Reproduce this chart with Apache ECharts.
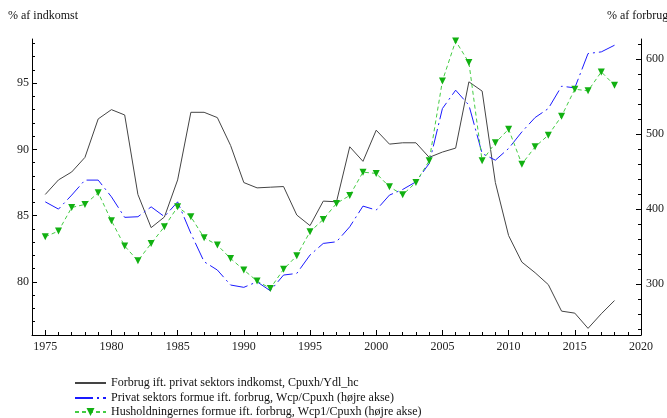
<!DOCTYPE html>
<html>
<head>
<meta charset="utf-8">
<script src="https://cdn.jsdelivr.net/npm/echarts@6/dist/echarts.min.js"></script>
<style>
  html, body { margin: 0; padding: 0; background: #fff; }
  #chart { width: 667px; height: 418px; }
</style>
</head>
<body>
<div id="chart"></div>
<script>
    // data, 1975-2018
    var years = [];
    for (var y = 1975; y <= 2018; y++) years.push(y);

    var forbrug = [86.6, 87.7, 88.3, 89.4, 92.3, 93.0, 92.6, 86.6, 84.1, 84.9,
        87.7, 92.8, 92.8, 92.4, 90.3, 87.5, 87.1, 87.15, 87.2, 85.05,
        84.25, 86.1, 86.05, 90.2, 89.1, 91.45, 90.4, 90.5, 90.5, 89.4,
        89.8, 90.1, 95.1, 94.4, 87.5, 83.5, 81.5, 80.7, 79.8, 77.8,
        77.65, 76.5, 77.6, 78.6];

    var wcp = [409.7, 400, 418.7, 438.7, 438.7, 416.4, 389, 389.8, 403, 390,
        409.7, 367.6, 329.8, 318.7, 298.7, 295.6, 303, 291, 312, 314.2,
        338.7, 354.2, 356.4, 376.4, 404, 398.7, 418.7, 426.2, 436.4, 460.9,
        534.2, 558.7, 538.7, 474.2, 465.3, 480.9, 503, 522.2, 534.2, 564,
        561.8, 607.6, 609.8, 618.7];

    var wcp1 = [363.1, 370.7, 402.2, 406.2, 421.8, 384.4, 350.7, 331, 354.2, 376.4,
        403, 389.8, 361.8, 352, 334.2, 318.7, 304, 294.2, 319.6, 337.8,
        369.8, 386.2, 407.6, 418.2, 449.3, 447.6, 429.8, 419.1, 435.6, 464.4,
        571.1, 624.4, 595.6, 464.4, 488.4, 506.7, 460, 483.1, 498.7, 524,
        560, 557.8, 583.1, 565.3];

    var names = ['Forbrug ift. privat sektors indkomst, Cpuxh/Ydl_hc',
        'Privat sektors formue ift. forbrug, Wcp/Cpuxh (højre akse)',
        'Husholdningernes formue ift. forbrug, Wcp1/Cpuxh (højre akse)'];

    var xLabels = [1975, 1980, 1985, 1990, 1995, 2000, 2005, 2010, 2015, 2020];
    var xMinor = [];
    for (var y = 1975; y <= 2019; y++) xMinor.push(y);
    var leftLabels = [80, 85, 90, 95];
    var leftMinor = [];
    for (var v = 77; v <= 98; v++) leftMinor.push(v);
    var rightLabels = [300, 400, 500, 600];
    var rightMinor = [];
    for (var v = 240; v <= 620; v += 20) rightMinor.push(v);

    function pairs(vals) {
        var out = [];
        for (var i = 0; i < vals.length; i++) out.push([years[i], vals[i]]);
        return out;
    }

    var font = 'Liberation Serif';
    var axisColor = '#000';
    var labelStyle = { fontFamily: font, fontSize: 12, color: '#222' };
    var plain = function (v) { return String(v); };

    // one legend per row so they stack like the original
    function legendRow(i, top, hideSymbol) {
        var item = { name: names[i] };
        if (hideSymbol) item.itemStyle = { opacity: 0 };
        return {
            left: 74,
            top: top,
            padding: 0,
            itemWidth: 31,
            itemHeight: 10,
            textStyle: { fontFamily: font, fontSize: 12, color: '#111' },
            data: [item]
        };
    }

    var chart = echarts.init(document.getElementById('chart'));
    var option = {
        animation: false,
        textStyle: { fontFamily: font },
        grid: { left: 32, right: 26, top: 39, bottom: 83 },
        graphic: [
            { type: 'text', left: 8, top: 10, style: { text: '% af indkomst', font: '12px ' + font, fill: '#111' } },
            { type: 'text', left: 607, top: 10, style: { text: '% af forbrug', font: '12px ' + font, fill: '#111' } }
        ],
        legend: [
            legendRow(0, 377, true),
            legendRow(1, 392, true),
            legendRow(2, 406, false)
        ],
        xAxis: [
            {
                type: 'value', min: 1974, max: 2020,
                splitLine: { show: false },
                axisLine: { lineStyle: { color: axisColor } },
                axisTick: { inside: true, length: 5, customValues: xLabels, lineStyle: { color: axisColor } },
                axisLabel: Object.assign({ customValues: xLabels, margin: 6, formatter: plain }, labelStyle)
            },
            {
                type: 'value', min: 1974, max: 2020, position: 'bottom',
                splitLine: { show: false },
                axisLine: { show: false },
                axisTick: { inside: true, length: 3, customValues: xMinor, lineStyle: { color: axisColor } },
                axisLabel: { show: false }
            }
        ],
        yAxis: [
            {
                type: 'value', position: 'left', min: 76, max: 98.33,
                splitLine: { show: false },
                axisLine: { show: true, lineStyle: { color: axisColor } },
                axisTick: { show: true, inside: true, length: 5, customValues: leftLabels, lineStyle: { color: axisColor } },
                axisLabel: Object.assign({ customValues: leftLabels, margin: 3, formatter: plain }, labelStyle)
            },
            {
                type: 'value', position: 'left', min: 76, max: 98.33,
                splitLine: { show: false },
                axisLine: { show: false },
                axisTick: { show: true, inside: true, length: 3, customValues: leftMinor, lineStyle: { color: axisColor } },
                axisLabel: { show: false }
            },
            {
                type: 'value', position: 'right', min: 232, max: 627,
                splitLine: { show: false },
                axisLine: { show: true, lineStyle: { color: axisColor } },
                axisTick: { show: true, inside: true, length: 5, customValues: rightLabels, lineStyle: { color: axisColor } },
                axisLabel: Object.assign({ customValues: rightLabels, margin: 5, formatter: plain }, labelStyle)
            },
            {
                type: 'value', position: 'right', min: 232, max: 627,
                splitLine: { show: false },
                axisLine: { show: false },
                axisTick: { show: true, inside: true, length: 3, customValues: rightMinor, lineStyle: { color: axisColor } },
                axisLabel: { show: false }
            }
        ],
        series: [
            {
                name: names[0],
                type: 'line',
                xAxisIndex: 0, yAxisIndex: 0,
                data: pairs(forbrug),
                symbol: 'none',
                lineStyle: { color: '#444', width: 1 },
                itemStyle: { color: '#444' }
            },
            {
                name: names[1],
                type: 'line',
                xAxisIndex: 0, yAxisIndex: 2,
                data: pairs(wcp),
                symbol: 'none',
                lineStyle: { color: '#1a1aff', width: 1, type: [18, 4, 2, 4] },
                itemStyle: { color: '#1a1aff' }
            },
            {
                name: names[2],
                type: 'line',
                xAxisIndex: 0, yAxisIndex: 2,
                data: pairs(wcp1),
                symbol: 'triangle',
                symbolRotate: 180,
                symbolSize: 7,
                lineStyle: { color: '#44cc44', width: 1, type: [4, 3] },
                itemStyle: { color: '#11b011' }
            }
        ]
    };
    chart.setOption(option);
</script>
</body>
</html>
